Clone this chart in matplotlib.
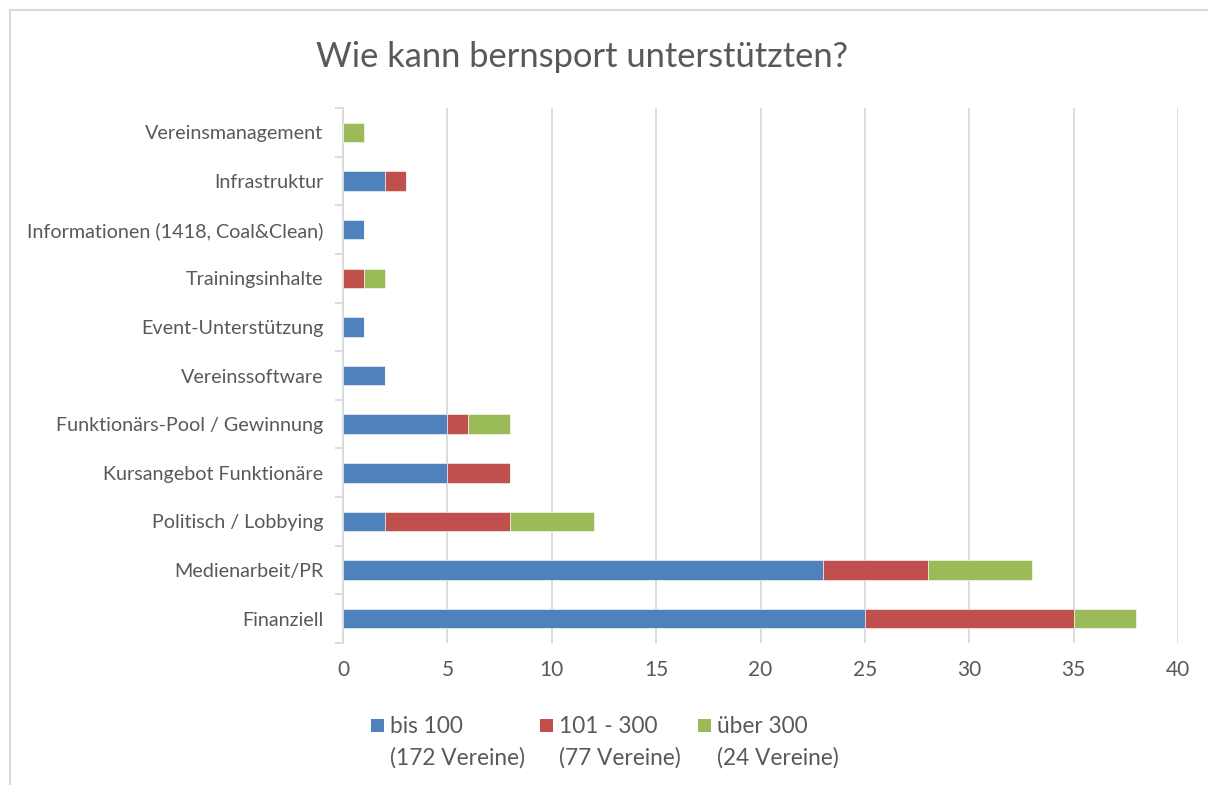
import numpy as np
import matplotlib
matplotlib.use("Agg")
import matplotlib.pyplot as plt
from matplotlib.patches import Rectangle

# data, top to bottom as in the chart
categories = [
    "Vereinsmanagement",
    "Infrastruktur",
    "Informationen (1418, Coal&Clean)",
    "Trainingsinhalte",
    "Event-Unterstützung",
    "Vereinssoftware",
    "Funktionärs-Pool / Gewinnung",
    "Kursangebot Funktionäre",
    "Politisch / Lobbying",
    "Medienarbeit/PR",
    "Finanziell",
]
bis_100 = [0, 2, 1, 0, 1, 2, 5, 5, 2, 23, 25]
von_101_300 = [0, 1, 0, 1, 0, 0, 1, 3, 6, 5, 10]
ueber_300 = [1, 0, 0, 1, 0, 0, 2, 0, 4, 5, 3]
series_labels = ["bis 100\n(172 Vereine)", "101 - 300\n(77 Vereine)", "über 300\n(24 Vereine)"]
x_ticks = [0, 5, 10, 15, 20, 25, 30, 35, 40]

colors = ["#4F81BD", "#C0504D", "#9BBB59"]
text_col = "#595959"
grid_col = "#D9D9D9"

plt.rcParams["font.family"] = ["Lato", "DejaVu Sans"]

fig = plt.figure(figsize=(12.08, 7.85), dpi=100)
ax = fig.add_axes([343 / 1208, 1 - 643 / 785, 835 / 1208, 535 / 785])

y = np.arange(len(categories))[::-1]
left = np.zeros(len(categories))
for vals, col in zip([bis_100, von_101_300, ueber_300], colors):
    vals = np.asarray(vals, dtype=float)
    ax.barh(y, vals, left=left, height=0.4, color=col, edgecolor="white", linewidth=0.4, zorder=3)
    left += vals

ax.set_xlim(0, 40)
ax.set_ylim(-0.5, len(categories) - 0.5)
ax.set_xticks(x_ticks)
ax.set_xticklabels([str(t) for t in x_ticks], fontsize=15, color=text_col)
ax.set_yticks(y)
ax.set_yticklabels(categories, fontsize=14.2, color=text_col)
ax.tick_params(axis="y", length=0, pad=14)
ax.tick_params(axis="x", length=0, pad=12)
# small ticks between categories on the left spine
ax.set_yticks(np.arange(-0.5, len(categories), 1.0), minor=True)
ax.tick_params(axis="y", which="minor", length=6, width=1.3, color=grid_col)

ax.grid(axis="x", color=grid_col, linewidth=1.3, zorder=0)
for s in ["top", "right", "bottom"]:
    ax.spines[s].set_visible(False)
ax.spines["left"].set_color(grid_col)
ax.spines["left"].set_linewidth(1.3)

fig.text(582 / 1208, 1 - 57 / 785, "Wie kann bernsport unterstützten?",
         fontsize=24.8, fontweight="normal", color=text_col, ha="center", va="center")

# legend laid out like the Excel original
leg_x = [371, 540, 698]
for lx, col, lab in zip(leg_x, colors, series_labels):
    fig.patches.append(Rectangle((lx / 1208, 1 - 732 / 785), 13 / 1208, 13 / 785,
                                 transform=fig.transFigure, facecolor=col, edgecolor="none"))
    fig.text((lx + 19) / 1208, 1 - 716 / 785, lab, fontsize=16.3, color=text_col,
             ha="left", va="top", linespacing=1.6)

# chart border
fig.patches.append(Rectangle((9.5 / 1208, -0.1), 1.2, 1 - 9.5 / 785 + 0.1,
                             transform=fig.transFigure, facecolor="none",
                             edgecolor=grid_col, linewidth=1.5))

fig.savefig("out.png", dpi=100)
